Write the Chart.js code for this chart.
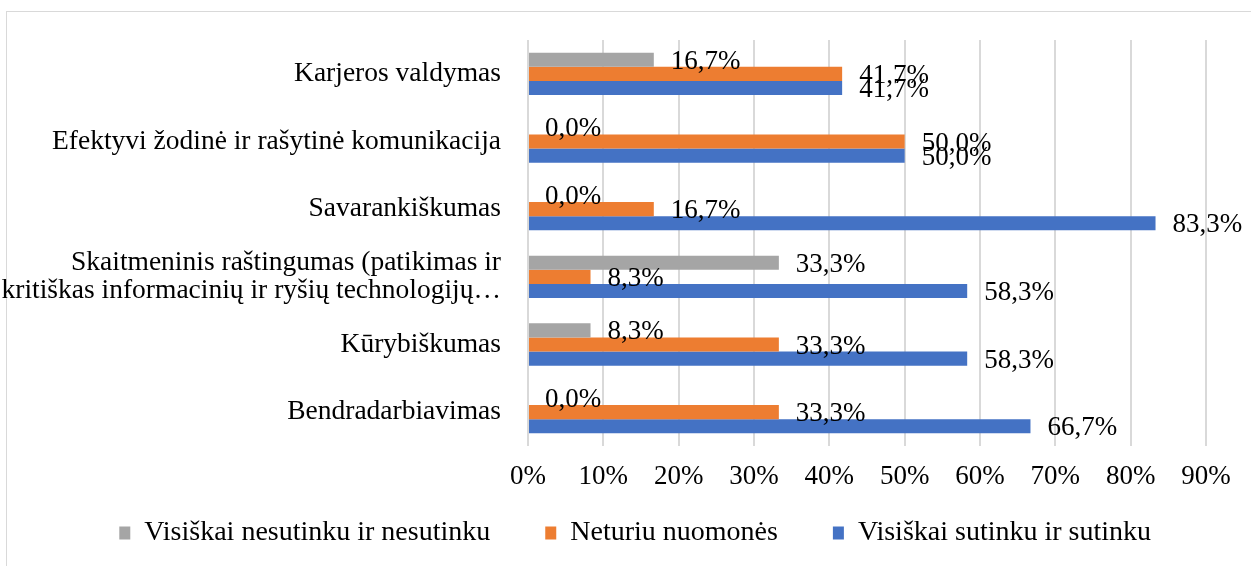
<!DOCTYPE html>
<html>
<head>
<meta charset="utf-8">
<script src="https://cdn.jsdelivr.net/npm/chart.js@4.4.0/dist/chart.umd.min.js"></script>
<style>
  html, body { margin: 0; padding: 0; background: #fff; overflow: hidden; }
  #wrap { position: relative; width: 1251px; height: 566px; }
  #frame { position: absolute; left: 6px; top: 11px; width: 1260px; height: 600px; border: 1px solid #D9D9D9; box-sizing: border-box; }
  canvas { position: absolute; left: 0; top: 0; }
</style>
</head>
<body>
<div id="wrap">
  <div id="frame"></div>
  <canvas id="chart" width="1251" height="566"></canvas>
</div>
<script>
const categories = [
  "Karjeros valdymas",
  "Efektyvi žodinė ir rašytinė komunikacija",
  "Savarankiškumas",
  ["Skaitmeninis raštingumas (patikimas ir", "kritiškas informacinių ir ryšių technologijų…"],
  "Kūrybiškumas",
  "Bendradarbiavimas"
]
const seriesNames = ["Visiškai nesutinku ir nesutinku", "Neturiu nuomonės", "Visiškai sutinku ir sutinku"]
const disagree = [16.7, 0.0, 0.0, 33.3, 8.3, 0.0]
const neutral  = [41.7, 50.0, 16.7, 8.3, 33.3, 33.3]
const agree    = [41.7, 50.0, 83.3, 58.3, 58.3, 66.7]
const xMax = 90
const xStep = 10

const FONT = "'Liberation Serif', 'Times New Roman', serif"

// value labels at the end of each bar, like Excel "outside end"
const valueLabels = {
  id: "valueLabels",
  afterDatasetsDraw(chart) {
    const ctx = chart.ctx
    ctx.save()
    ctx.font = "27px " + FONT
    ctx.fillStyle = "#000"
    ctx.textAlign = "left"
    ctx.textBaseline = "alphabetic"
    chart.data.datasets.forEach((ds, i) => {
      chart.getDatasetMeta(i).data.forEach((bar, j) => {
        const txt = ds.data[j].toFixed(1).replace(".", ",") + "%"
        ctx.fillText(txt, bar.x + 17, bar.y + 9)
      })
    })
    ctx.restore()
  }
}

new Chart(document.getElementById("chart"), {
  type: "bar",
  data: {
    labels: categories,
    datasets: [
      { label: seriesNames[0], data: disagree, backgroundColor: "#A5A5A5" },
      { label: seriesNames[1], data: neutral,  backgroundColor: "#ED7D31" },
      { label: seriesNames[2], data: agree,    backgroundColor: "#4472C4" }
    ]
  },
  options: {
    indexAxis: "y",
    responsive: false,
    animation: false,
    datasets: { bar: { categoryPercentage: 0.625, barPercentage: 1.0, borderWidth: 0 } },
    layout: { padding: { top: 40, right: 45, left: 0, bottom: 9 } },
    scales: {
      y: {
        grid: { display: false },
        border: { display: false },
        ticks: { font: { family: FONT, size: 27.5, lineHeight: 1.05 }, color: "#000", padding: 19 },
        afterFit: s => { s.width = 528 }
      },
      x: {
        min: 0, max: xMax,
        grid: { color: "#D9D9D9", lineWidth: 2, drawTicks: false },
        border: { display: false },
        // mirrored with negative padding so the labels sit below the plot without being clipped
        ticks: { stepSize: xStep, mirror: true, padding: -47, font: { family: FONT, size: 27 }, color: "#000", callback: v => v + "%" },
        afterFit: s => { s.height = 18 }
      }
    },
    plugins: {
      tooltip: { enabled: false },
      legend: {
        position: "bottom",
        align: "end",
        labels: { font: { family: FONT, size: 28 }, color: "#000", boxWidth: 11, boxHeight: 13, padding: 55 }
      }
    }
  },
  plugins: [valueLabels]
})
</script>
</body>
</html>
